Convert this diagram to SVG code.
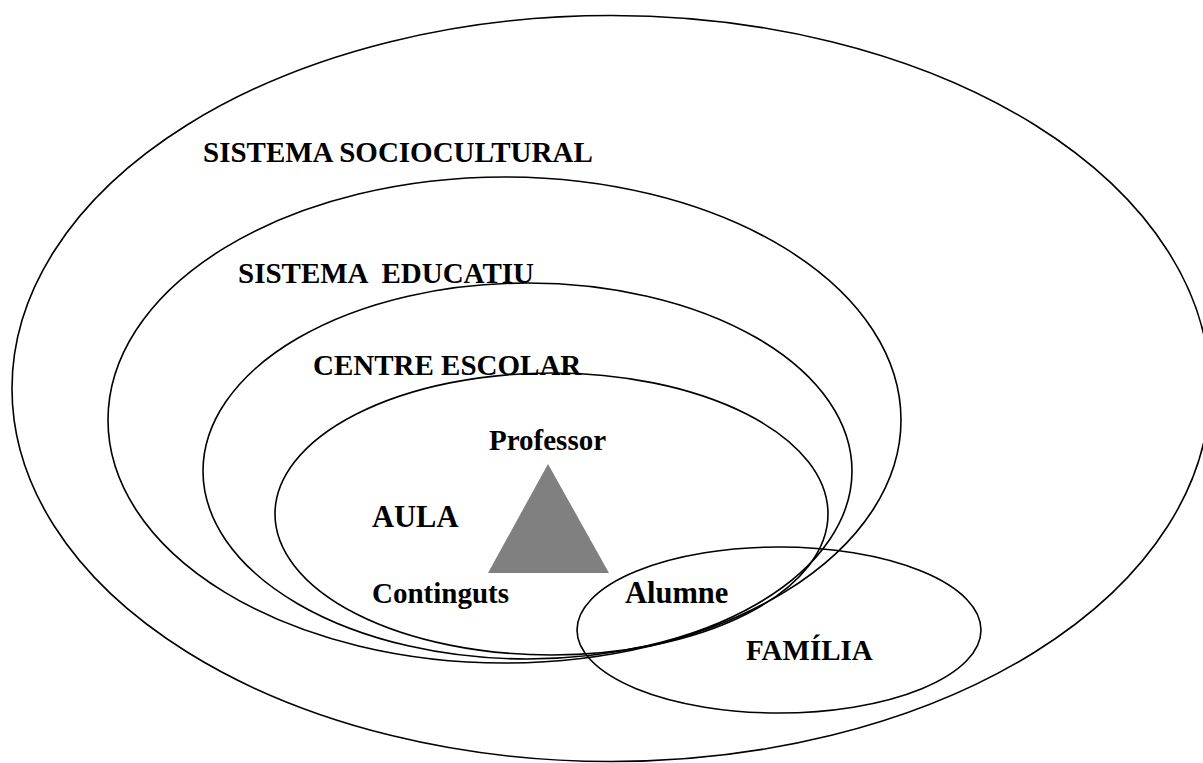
<svg xmlns="http://www.w3.org/2000/svg" width="1203" height="763" viewBox="0 0 1203 763">
  <style>
    .ring { fill: none; stroke: #000; stroke-width: 1.6; }
    .lbl { font-family: "Liberation Serif", "Times New Roman", serif; font-weight: bold; font-size: 29px; fill: #000; }
    .big { font-size: 30.5px; }
  </style>
  <rect x="0" y="0" width="1203" height="763" fill="#fff"/>

  <!-- Nested systems, outermost first -->
  <g id="sistema-sociocultural">
    <ellipse class="ring" cx="611" cy="388.5" rx="599" ry="373"/>
    <text class="lbl" x="203" y="162">SISTEMA SOCIOCULTURAL</text>
  </g>

  <g id="sistema-educatiu">
    <ellipse class="ring" cx="504.5" cy="420" rx="396.5" ry="243"/>
    <text class="lbl" x="238" y="283" xml:space="preserve">SISTEMA  EDUCATIU</text>
  </g>

  <g id="centre-escolar">
    <ellipse class="ring" cx="527.5" cy="471" rx="324.5" ry="188"/>
    <text class="lbl" x="313" y="375">CENTRE ESCOLAR</text>
  </g>

  <g id="aula">
    <ellipse class="ring" cx="551.5" cy="514" rx="276.5" ry="141"/>
    <text class="lbl big" x="372" y="527">AULA</text>
  </g>

  <g id="familia">
    <ellipse class="ring" cx="779" cy="630" rx="202" ry="83"/>
    <text class="lbl" x="746" y="660">FAMÍLIA</text>
  </g>

  <!-- Didactic triangle: teacher, contents, pupil -->
  <g id="triangle">
    <polygon points="548,464 488,573 609,573" fill="#808080"/>
  </g>
  <g id="professor">
    <text class="lbl" x="489" y="450">Professor</text>
  </g>
  <g id="continguts">
    <text class="lbl" x="372" y="603">Continguts</text>
  </g>
  <g id="alumne">
    <text class="lbl big" x="625" y="603">Alumne</text>
  </g>

  <g id="connectors"/>
</svg>
